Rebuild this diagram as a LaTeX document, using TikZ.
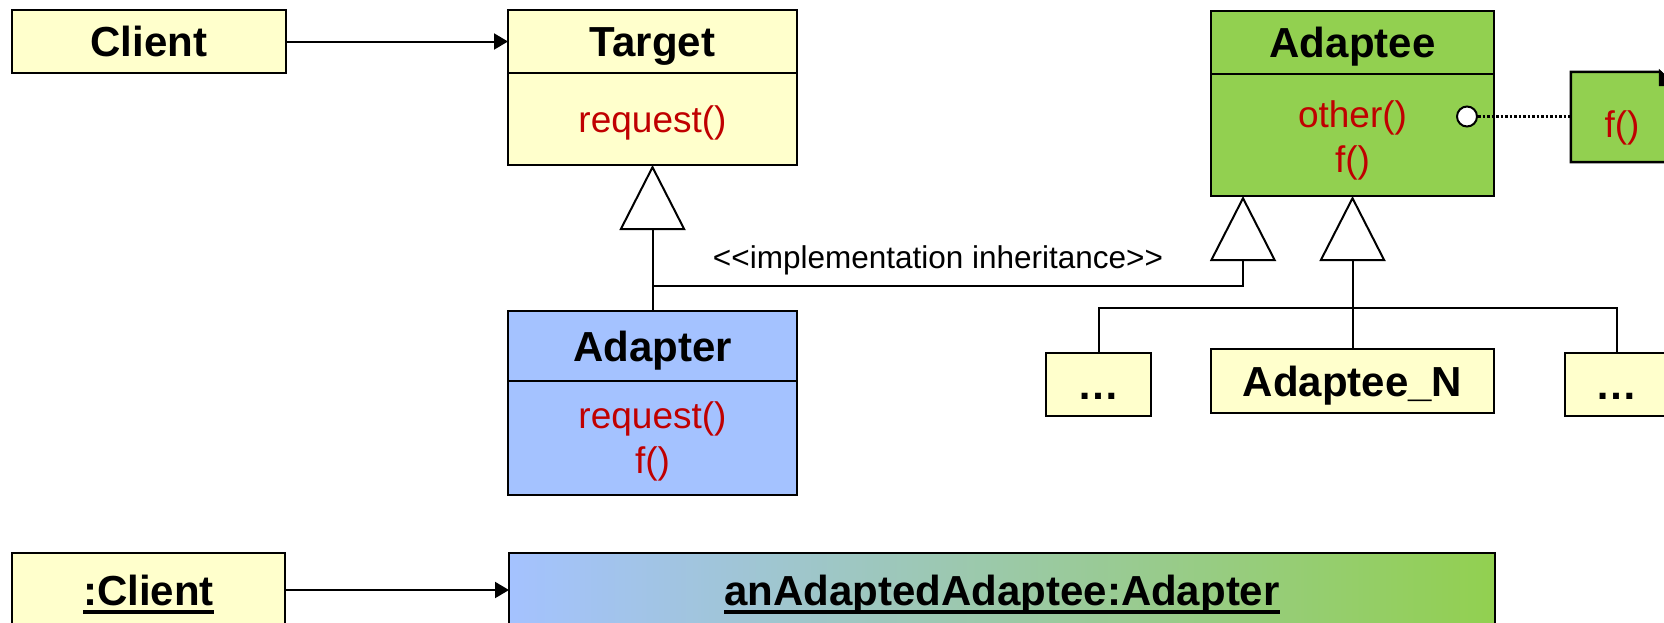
\documentclass[tikz,border=0pt]{standalone}
\usepackage{fontspec}
\setmainfont{Liberation Sans}
\usetikzlibrary{arrows.meta}

\definecolor{clsyellow}{RGB}{255,255,204}
\definecolor{clsgreen}{RGB}{146,208,80}
\definecolor{clsblue}{RGB}{164,194,255}
\definecolor{opred}{RGB}{192,0,0}

% thick underline for object names
\newcommand\ulname[1]{\setbox0\hbox{#1}\rlap{\rule[-9pt]{\wd0}{4.5pt}}\box0}

\begin{document}
\begin{tikzpicture}[x=1pt,y=-1pt,
  box/.style={draw=black, line width=2.5pt, inner sep=0pt, outer sep=0pt},
  clsname/.style={box, font=\fontsize{42}{48}\selectfont\bfseries, text height=30pt, text depth=0pt},
  op/.style={anchor=base, inner sep=0pt, text=opred, font=\fontsize{37}{44}\selectfont},
  link/.style={line width=2pt},
  uses/.style={link, -{Triangle[length=14pt,width=16pt]}},
  inherit/.style={link, -{Triangle[open, length=65pt, width=66pt]}},
]
\useasboundingbox (0,0) rectangle (1664,622);

% --- Client and Target
\node[clsname, fill=clsyellow, minimum width=274pt, minimum height=63pt] (client) at (149,41.5) {Client};
\node[clsname, fill=clsyellow, minimum width=289pt, minimum height=63pt] (target) at (652.5,41.5) {Target};
\node[box, fill=clsyellow, minimum width=289pt, minimum height=92pt] (target-ops) at (652.5,119) {};
\node[op] (target-op1) at (652.5,132) {request()};

% --- Adaptee with its note
\node[clsname, fill=clsgreen, minimum width=283pt, minimum height=63pt] (adaptee) at (1352.5,42.5) {Adaptee};
\node[box, fill=clsgreen, minimum width=283pt, minimum height=122pt] (adaptee-ops) at (1352.5,135) {};
\node[op] (adaptee-op1) at (1352.5,127.5) {other()};
\node[op] (adaptee-op2) at (1352.5,172) {f()};
\node[circle, draw, fill=white, line width=2pt, minimum size=20pt, inner sep=0pt] (port) at (1467,116.5) {};

\node[inner sep=0pt, minimum width=102pt, minimum height=90pt] (note) at (1622,117) {};
\draw[line width=2.5pt, fill=clsgreen, line join=miter]
  (note.north west) -- ([xshift=-13pt]note.north east) -- ([yshift=-13pt]note.north east)
  -- (note.south east) -- (note.south west) -- cycle;
\draw[line width=2.5pt, fill=black]
  ([xshift=-13pt]note.north east) -- ([xshift=-13pt,yshift=-13pt]note.north east) -- ([yshift=-13pt]note.north east) -- cycle;
\node[op] (note-op) at (1622,137) {f()};
\draw[line width=2.5pt, dash pattern=on 2.5pt off 2pt] (port.east) -- (note.west |- port.east);

% --- Adapter
\node[clsname, fill=clsblue, minimum width=289pt, minimum height=70pt] (adapter) at (652.5,346) {Adapter};
\node[box, fill=clsblue, minimum width=289pt, minimum height=114pt] (adapter-ops) at (652.5,438) {};
\node[op] (adapter-op1) at (652.5,428.5) {request()};
\node[op] (adapter-op2) at (652.5,473) {f()};

% --- Adaptee subclasses
\node[clsname, fill=clsyellow, minimum width=105pt, minimum height=63pt] (more-l) at (1098.5,384.5) {…};
\node[clsname, fill=clsyellow, minimum width=283pt, minimum height=64pt] (adaptee-n) at (1352.5,381) {Adaptee\_N};
\node[clsname, fill=clsyellow, minimum width=103pt, minimum height=63pt] (more-r) at (1616.5,384.5) {…};

% --- object level
\node[clsname, fill=clsyellow, minimum width=273pt, minimum height=81pt, text depth=7pt] (client-obj) at (148.5,593.5) {\ulname{:Client}};
\node[clsname, left color=clsblue, right color=clsgreen, minimum width=986pt, minimum height=81pt, text depth=7pt] (adapter-obj) at (1002,593.5) {\ulname{anAdaptedAdaptee:Adapter}};

% --- connectors
\draw[uses] (client) -- (target);
\draw[uses] ([yshift=3.5pt]client-obj.east) -- ([yshift=3.5pt]adapter-obj.west);

\draw[inherit] (adapter) -- (target-ops);
\coordinate (impl) at (652.5,286);
\coordinate (adaptee-in) at ([xshift=-109.5pt]adaptee-ops.south);
\draw[inherit] (impl) -| (adaptee-in);
\node[anchor=base, inner sep=0pt, font=\fontsize{31.5}{36}\selectfont] (impl-label) at (938,268) {<{}<implementation inheritance>{}>};

\draw[inherit] (adaptee-n) -- (adaptee-ops);
\coordinate (bar) at (1352.5,308);
\draw[link] (more-l) |- (bar) -| (more-r);
\end{tikzpicture}
\end{document}
